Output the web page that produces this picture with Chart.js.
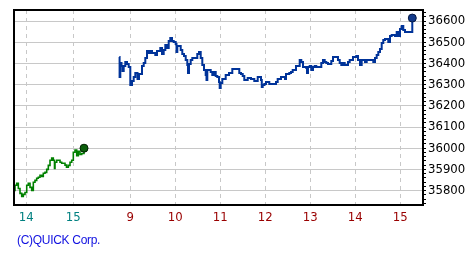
<!DOCTYPE html>
<html><head><meta charset="utf-8">
<script src="https://cdn.jsdelivr.net/npm/chart.js@4/dist/chart.umd.min.js"></script>
<style>
html,body{margin:0;padding:0;background:#fff;}
#wrap{position:relative;width:475px;height:260px;}
#credit{position:absolute;left:17px;top:233px;font:12px 'Liberation Sans',Arial,sans-serif;letter-spacing:-0.3px;color:#1010e0;white-space:nowrap;line-height:14px;}
</style></head><body>
<div id="wrap"><canvas id="c" width="475" height="260"></canvas><div id="credit">(C)QUICK Corp.</div></div>
<script>
// time axis: 1 unit = 1/15 trading day; 0 = start of day "9"
const greenTime = [
 -38.77,-38.43,-37.87,-37.33,-36.77,-36.2,-35.67,-35.1,-34.53,-34,
 -33.43,-32.87,-32.33,-31.77,-31.2,-30.67,-30.1,-29.53,-29,-28.43,
 -27.87,-27.33,-26.77,-26.2,-25.67,-25.27,-25.1,-24.53,-23.43,-22.87,
 -21.77,-21.27,-20.67,-20.1,-19.53,-19,-18.43,-17.87,-17.33,-16.77,
 -16.2,-15.43];
const greenValue = [
 35801,35825,35834,35810,35787,35772,35782,35791,35825,35834,
 35815,35801,35839,35848,35858,35863,35872,35867,35882,35886,
 35900,35919,35943,35953,35943,35905,35934,35943,35934,35929,
 35920,35910,35919,35934,35943,35981,35991,35965,35985,35970,
 35975,36000];
const blueTime = [
 -3.67,-3.57,-3.33,-2.93,-2.6,-2.2,-1.67,-1.1,-0.53,0,
 0.57,1.13,1.67,2.4,2.9,3.9,4.47,5,5.57,6.13,
 6.67,7.23,8.33,8.9,10,10.57,11.13,11.67,12.23,12.8,
 13.33,13.9,14.47,15.13,15.4,15.67,16.8,17.33,17.9,18.47,
 19,19.23,19.57,20.13,20.67,22.33,22.9,23.47,24,24.57,
 25.13,25.4,25.67,26.8,27.33,27.9,28.47,29,29.57,29.8,
 30.13,30.67,31.8,32.9,34,36.33,36.9,37.47,38,39.13,
 40.23,41.33,42.47,43.57,43.83,44.13,44.67,45.23,46.33,48.57,
 49.13,50.23,51.57,51.9,53,53.57,54.13,55.23,56.47,57,
 57.57,58.67,58.9,59.23,59.8,60.33,60.9,61.47,62,63.67,
 64.23,64.8,65.33,65.9,67,67.57,69.23,69.8,70.33,70.9,
 71.47,72.57,73.13,74.23,75.33,75.9,76.57,77.13,78.23,78.8,
 81,81.57,82.13,82.67,83.23,83.8,84.33,84.9,86,86.57,
 87.13,88.23,88.8,89.33,89.9,90.47,91,91.57,94];
const blueValue = [
 36430,36336,36402,36388,36364,36388,36407,36397,36383,36298,
 36317,36336,36355,36326,36350,36388,36402,36425,36458,36449,
 36458,36449,36440,36458,36473,36444,36463,36487,36473,36506,
 36520,36506,36501,36492,36454,36482,36463,36444,36435,36416,
 36392,36355,36397,36416,36425,36444,36454,36425,36392,36369,
 36345,36322,36369,36359,36345,36359,36341,36336,36312,36284,
 36308,36326,36345,36355,36374,36355,36350,36341,36322,36331,
 36326,36317,36336,36322,36289,36298,36303,36312,36303,36312,
 36326,36336,36326,36350,36355,36359,36369,36388,36416,36407,
 36383,36378,36355,36383,36388,36369,36383,36388,36383,36402,
 36416,36407,36402,36397,36411,36430,36416,36402,36392,36402,
 36392,36407,36416,36430,36435,36416,36392,36416,36407,36416,
 36407,36425,36440,36454,36468,36496,36510,36515,36501,36529,
 36534,36529,36548,36529,36562,36576,36558,36548,36614];
const xTickPos = [-34.67,-19,0,15,30,45,60,75,90];
const xTickLabels = ['14','15','9','10','11','12','13','14','15'];
const xTickColors = ['#008080','#008080','#990000','#990000','#990000','#990000','#990000','#990000','#990000'];
const xMin = -38.77, xMax = 97.57;
const yMin = 35732, yMax = 36652, yMajor = 100, yMinor = 20;

const tickFont = {family:"'Liberation Sans Narrow','DejaVu Sans Condensed','Liberation Sans',sans-serif", size:13};

function pts(t, v){ return t.map((x,i)=>({x:x, y:v[i]})); }
function lastOnly(n, r){ return Array.from({length:n},(_,i)=> i===n-1 ? r : 0); }

const frame = {id:'frame', afterDraw(chart){
  const {ctx, chartArea:a} = chart;
  ctx.save(); ctx.strokeStyle='#000'; ctx.lineWidth=2;
  ctx.strokeRect(a.left, a.top, a.right-a.left, a.bottom-a.top);
  ctx.restore();
}};

new Chart(document.getElementById('c'), {
  type:'line',
  data:{datasets:[
    {data:pts(greenTime,greenValue), borderColor:'#008000', borderWidth:1.6, stepped:true,
     pointRadius:lastOnly(greenTime.length,4), pointBackgroundColor:'#0b5e0b', pointBorderColor:'#002000', pointBorderWidth:1, fill:false},
    {data:pts(blueTime,blueValue), borderColor:'#003399', borderWidth:2, stepped:true,
     pointRadius:lastOnly(blueTime.length,4), pointBackgroundColor:'#12398a', pointBorderColor:'#061a45', pointBorderWidth:1, fill:false}
  ]},
  options:{
    responsive:false, animation:false, devicePixelRatio:1, events:[],
    layout:{padding:{left:14, top:10, right:0, bottom:0}},
    plugins:{legend:{display:false}, tooltip:{enabled:false}},
    scales:{
      x:{type:'linear', position:'bottom', min:xMin, max:xMax,
        afterBuildTicks(s){ s.ticks = xTickPos.map(v=>({value:v})); },
        afterFit(s){ s.height = 55; },
        grid:{color:'#c8c8c8', lineWidth:1, drawTicks:false},
        border:{display:false, dash:[4,4]},
        ticks:{autoSkip:false, maxRotation:0, padding:5, font:tickFont,
          color:(c)=>xTickColors[c.index], callback:(v,i)=>xTickLabels[i]}
      },
      y:{type:'linear', position:'right', min:yMin, max:yMax,
        afterBuildTicks(s){ const t=[]; for(let v=Math.ceil(yMin/yMinor)*yMinor; v<=yMax; v+=yMinor) t.push({value:v}); s.ticks=t; },
        afterFit(s){ s.width = 52; },
        grid:{color:(c)=> (c.tick && c.tick.value % yMajor === 0) ? '#c8c8c8' : 'rgba(0,0,0,0)', tickColor:'#000', tickLength:3, lineWidth:1},
        border:{display:false},
        ticks:{autoSkip:false, padding:2, color:'#000', font:tickFont,
          callback:(v)=> v % yMajor === 0 ? String(v) : ''}
      }
    }
  },
  plugins:[frame]
});
</script>
</body></html>
